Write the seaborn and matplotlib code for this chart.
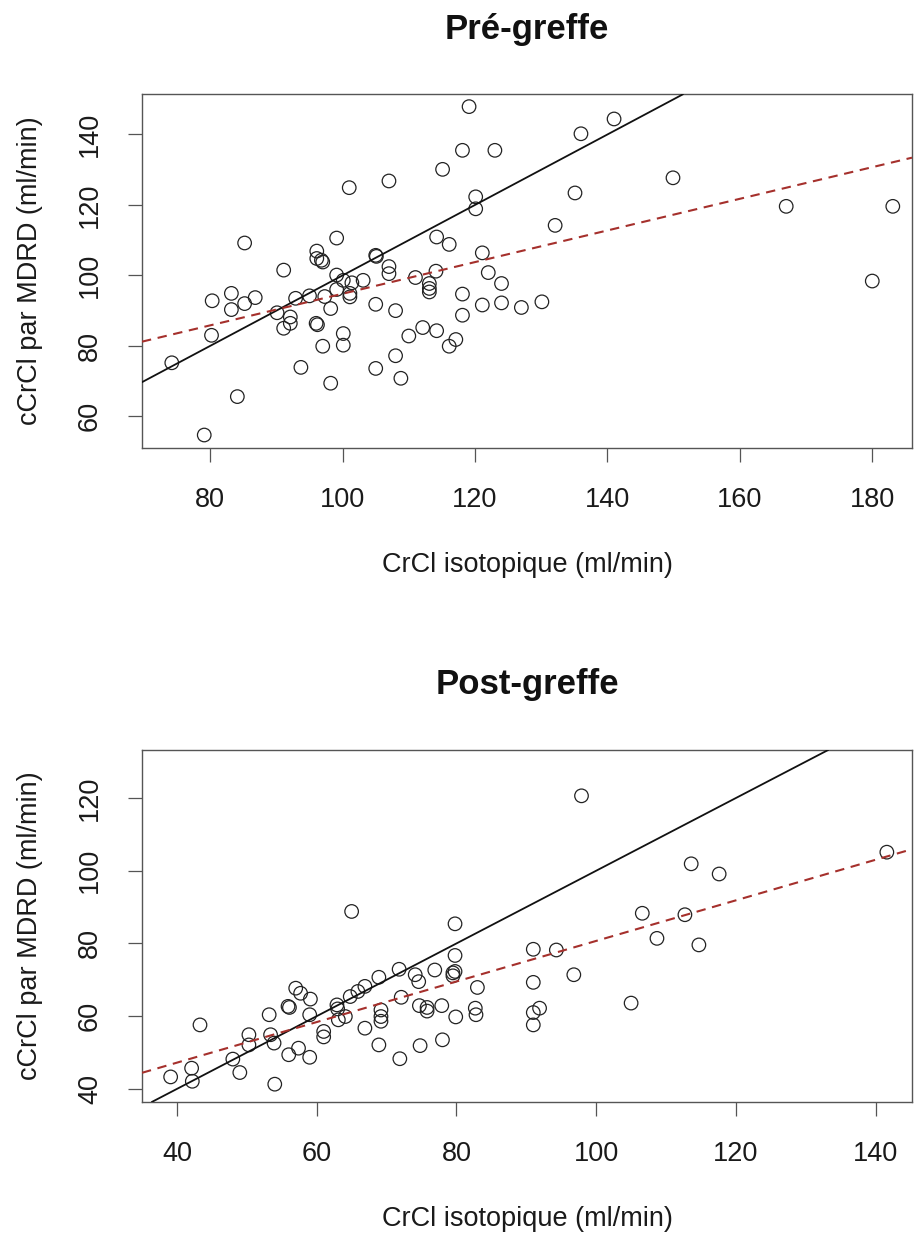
import matplotlib
matplotlib.use("Agg")
import matplotlib.pyplot as plt
import seaborn as sns
import pandas as pd

# ---------------- data ----------------
pre_x = [74.2, 79.1, 80.2, 80.3, 83.2, 83.2, 84.1, 85.2, 85.2, 86.8,
         90.1, 91.1, 91.1, 92.1, 92.1, 92.9, 93.7, 95.0, 96.1, 96.1,
         97.0, 96.8, 96.0, 96.2, 97.0, 97.3, 98.2, 98.2, 99.1, 99.1,
         100.1, 99.1, 100.1, 100.1, 101.0, 101.1, 101.1, 101.4, 103.1, 105.0,
         105.1, 105.0, 105.0, 107.0, 107.0, 107.0, 108.0, 108.0, 108.8, 110.0,
         111.0, 112.1, 113.1, 113.1, 113.1, 114.2, 114.1, 114.2, 115.1, 116.1,
         116.1, 117.1, 118.1, 118.1, 118.1, 119.1, 120.1, 120.1, 121.1, 121.1,
         122.0, 124.0, 124.0, 127.0, 130.1, 132.1, 135.1, 136.0, 141.0, 149.9,
         167.0, 180.0, 183.1, 123.0]
pre_y = [75.2, 54.7, 83.0, 92.8, 94.9, 90.3, 65.6, 109.2, 92.0, 93.7,
         89.4, 101.5, 85.0, 86.4, 88.2, 93.5, 73.9, 94.2, 106.9, 104.8,
         103.8, 104.3, 86.4, 86.0, 79.9, 94.0, 90.6, 69.4, 110.6, 100.1,
         98.6, 96.0, 83.5, 80.2, 124.9, 94.9, 93.9, 97.9, 98.6, 105.7,
         105.4, 91.8, 73.6, 126.8, 102.5, 100.5, 90.0, 77.2, 70.8, 82.8,
         99.4, 85.2, 97.7, 96.3, 95.3, 110.9, 101.2, 84.3, 130.1, 108.8,
         79.9, 81.8, 135.5, 94.7, 88.7, 147.9, 122.3, 118.9, 106.4, 91.6,
         100.8, 97.7, 92.2, 90.9, 92.5, 114.2, 123.4, 140.2, 144.4, 127.7,
         119.6, 98.4, 119.6, 135.5]

post_x = [39.1, 42.1, 42.2, 43.3, 48.0, 49.0, 50.3, 50.3, 53.2, 53.4,
          53.9, 54.0, 55.9, 56.1, 56.0, 57.0, 57.7, 57.4, 59.1, 59.0,
          59.0, 61.0, 61.0, 62.9, 63.1, 64.1, 65.0, 64.8, 65.9, 66.9,
          66.9, 63.0, 68.9, 69.2, 69.2, 69.2, 68.9, 71.8, 72.1, 71.9,
          74.1, 74.6, 74.7, 75.8, 75.8, 74.8, 76.9, 77.9, 78.0, 79.5,
          79.5, 79.8, 79.8, 79.8, 79.9, 82.7, 82.8, 83.0, 91.0, 91.0,
          91.0, 91.9, 91.0, 94.3, 96.8, 97.9, 105.0, 106.6, 108.7, 112.7,
          113.6, 114.7, 117.6, 141.6]
post_y = [43.3, 45.7, 42.1, 57.6, 48.2, 44.5, 54.9, 52.1, 60.4, 54.9,
          52.6, 41.3, 62.7, 62.4, 49.4, 67.7, 66.3, 51.2, 64.7, 60.4,
          48.7, 55.8, 54.3, 63.1, 59.0, 59.9, 88.8, 65.4, 66.8, 68.2,
          56.7, 62.0, 70.7, 61.7, 59.9, 58.6, 52.1, 72.9, 65.2, 48.3,
          71.4, 69.5, 62.9, 62.4, 61.4, 51.9, 72.7, 62.9, 53.5, 71.9,
          71.1, 72.3, 76.7, 85.4, 59.8, 62.2, 60.4, 67.9, 78.4, 69.3,
          61.0, 62.2, 57.6, 78.2, 71.4, 120.6, 63.6, 88.3, 81.4, 87.9,
          101.9, 79.6, 99.1, 105.1]

# regression lines: (intercept, slope)
fit_pre = [49.9, 0.449]
fit_post = [24.9, 0.558]
identity = [0.0, 1.0]

titles = ["Pré-greffe", "Post-greffe"]
xlabel = "CrCl isotopique (ml/min)"
ylabel = "cCrCl par MDRD (ml/min)"
pre_xticks = [80, 100, 120, 140, 160, 180]
pre_yticks = [60, 80, 100, 120, 140]
post_xticks = [40, 60, 80, 100, 120, 140]
post_yticks = [40, 60, 80, 100, 120]

# ---------------- style ----------------
sns.set_style("white")
plt.rcParams['font.family'] = ['Liberation Sans', 'DejaVu Sans']

W, H = 916, 1236
fig = plt.figure(figsize=(W / 100, H / 100), dpi=100)

ax1 = fig.add_axes([142 / W, 1 - 447.7 / H, 770 / W, 353.4 / H])
ax2 = fig.add_axes([142 / W, 1 - 1102 / H, 770 / W, 352 / H])

panels = [
    (ax1, pre_x, pre_y, fit_pre, (69.7, 186.0), (51.1, 151.4), pre_xticks, pre_yticks, titles[0]),
    (ax2, post_x, post_y, fit_post, (35.0, 145.2), (36.4, 133.2), post_xticks, post_yticks, titles[1]),
]

spine_col = "#555555"
for ax, xs, ys, fit, xl, yl, xt, yt, title in panels:
    df = pd.DataFrame({"x": xs, "y": ys})
    sns.scatterplot(data=df, x="x", y="y", ax=ax, marker="o", s=95,
                    facecolor="none", edgecolor="#222222", linewidth=0.9)
    ax.axline((0, identity[0]), slope=identity[1], color="#111111", lw=1.3, zorder=3)
    ax.axline((0, fit[0]), slope=fit[1], color="#a5302c", lw=1.5,
              dashes=(4.5, 3.2), zorder=3)
    ax.set_xlim(*xl)
    ax.set_ylim(*yl)
    ax.set_xticks(xt)
    ax.set_yticks(yt)
    ax.set_xticklabels([str(v) for v in xt])
    ax.set_yticklabels([str(v) for v in yt], rotation=90, va="center")
    ax.tick_params(axis="both", which="major", direction="out", length=10,
                   width=0.9, color=spine_col, labelsize=19.5,
                   labelcolor="#1a1a1a", pad=18, left=True, bottom=True)
    for sp in ax.spines.values():
        sp.set_color(spine_col)
        sp.set_linewidth(1.0)
    ax.set_xlabel(xlabel, fontsize=19.5, color="#1a1a1a")
    ax.set_ylabel(ylabel, fontsize=19.5, color="#1a1a1a")
    ax.xaxis.set_label_coords(0.5, -0.295)
    ax.yaxis.set_label_coords(-0.128, 0.5)
    ax.set_title(title, fontsize=25, fontweight="bold", color="#111111", pad=40)

fig.savefig("out.png", dpi=100)
